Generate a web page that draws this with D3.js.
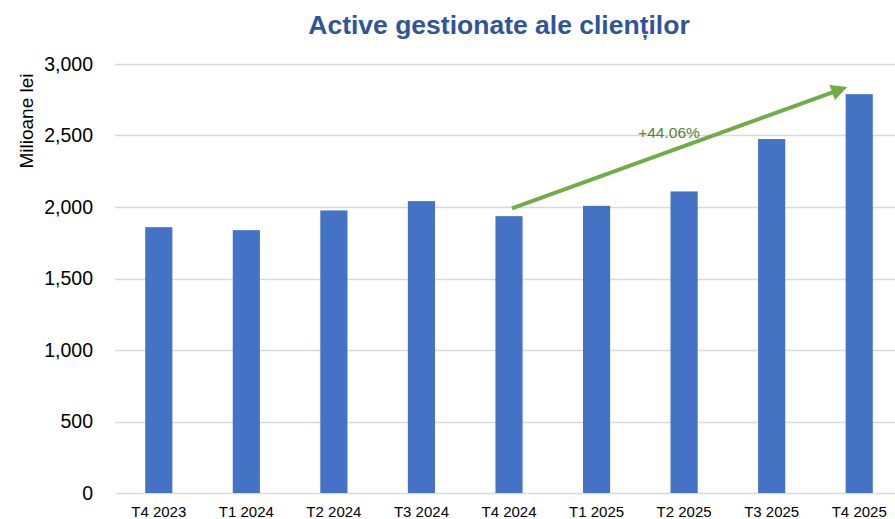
<!DOCTYPE html>
<html>
<head>
<meta charset="utf-8">
<script src="https://cdn.jsdelivr.net/npm/d3@7"></script>
<style>
  html, body { margin: 0; padding: 0; background: #fff; }
  svg { display: block; font-family: Arial, "Liberation Sans", sans-serif; }
</style>
</head>
<body>
<svg id="chart" width="895" height="519"></svg>
<script>
const categories = ["T4 2023", "T1 2024", "T2 2024", "T3 2024", "T4 2024", "T1 2025", "T2 2025", "T3 2025", "T4 2025"];
const values = [1859, 1838, 1976, 2041, 1936, 2008, 2109, 2475, 2789];
const yTicks = [0, 500, 1000, 1500, 2000, 2500, 3000];
const title = "Active gestionate ale clienților";
const yTitle = "Milioane lei";
const growthLabel = "+44.06%";
const arrowFrom = { cat: "T4 2024", value: 1990 };
const arrowTo = { cat: "T4 2025", value: 2850 };

const svg = d3.select("#chart");
const W = 895, H = 519;
const margin = { left: 115, right: -8, top: 64, bottom: 26 };

const x = d3.scaleBand().domain(categories).range([margin.left, W - margin.right]).paddingInner(0.69).paddingOuter(0.345);
const y = d3.scaleLinear().domain([0, 3000]).range([H - margin.bottom, margin.top]);

// gridlines
svg.append("g").selectAll("line").data(yTicks).join("line")
  .attr("x1", margin.left).attr("x2", W)
  .attr("y1", d => Math.round(y(d)) + 0.5).attr("y2", d => Math.round(y(d)) + 0.5)
  .attr("stroke", "#d9d9d9").attr("stroke-width", 1.3);

// y axis labels
const yAxis = d3.axisLeft(y).tickValues(yTicks).tickFormat(d3.format(",")).tickSize(0).tickPadding(22);
const gy = svg.append("g").attr("transform", `translate(${margin.left},0)`).call(yAxis);
gy.select(".domain").remove();
gy.selectAll("text").attr("font-size", 19.5).attr("fill", "#000").attr("font-family", "Arial, 'Liberation Sans', sans-serif");

// bars
svg.append("g").selectAll("rect").data(values).join("rect")
  .attr("x", (d, i) => x(categories[i]))
  .attr("width", x.bandwidth())
  .attr("y", d => y(d))
  .attr("height", d => y(0) - y(d))
  .attr("fill", "#4472C4");

// x axis
const xAxis = d3.axisBottom(x).tickSize(0).tickPadding(13);
const gx = svg.append("g").attr("transform", `translate(0,${y(0)})`).call(xAxis);
gx.select(".domain").remove();
gx.selectAll("text").attr("font-size", 15).attr("fill", "#000").attr("font-family", "Arial, 'Liberation Sans', sans-serif");

// title
svg.append("text").attr("x", 499).attr("y", 34).attr("text-anchor", "middle")
  .attr("font-size", 26.5).attr("font-weight", "bold").attr("fill", "#2F5597").text(title);

// y title
svg.append("text").attr("transform", `translate(33,121) rotate(-90)`).attr("text-anchor", "middle")
  .attr("font-size", 19).attr("fill", "#000").text(yTitle);

// arrow
const defs = svg.append("defs");
defs.append("marker").attr("id", "ah").attr("viewBox", "0 0 10 10").attr("refX", 2).attr("refY", 5)
  .attr("markerWidth", 4.4).attr("markerHeight", 4).attr("orient", "auto").attr("markerUnits", "strokeWidth")
  .append("path").attr("d", "M0,0 L10,5 L0,10 Z").attr("fill", "#70AD47");
const x1 = x(arrowFrom.cat) + x.bandwidth() / 2 + 3, y1 = y(arrowFrom.value);
const x2 = x(arrowTo.cat) + x.bandwidth() / 2 - 24, y2 = y(arrowTo.value) + 6;
svg.append("line").attr("x1", x1).attr("y1", y1).attr("x2", x2).attr("y2", y2)
  .attr("stroke", "#70AD47").attr("stroke-width", 4).attr("marker-end", "url(#ah)");

svg.append("text").attr("x", 669).attr("y", y(2480))
  .attr("text-anchor", "middle").attr("font-size", 15.5).attr("fill", "#548235").text(growthLabel);
</script>
</body>
</html>
